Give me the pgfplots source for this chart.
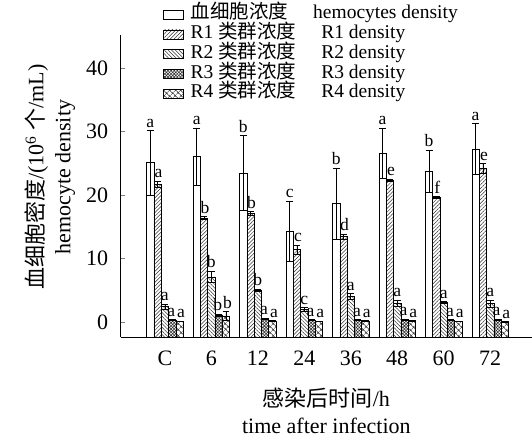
\documentclass[border=0pt]{standalone}
\usepackage{pgfplots}
\pgfplotsset{compat=1.18}
\usepackage{pgfplotstable}
\usetikzlibrary{patterns,patterns.meta}
\usepackage{fontspec}
\setmainfont{Liberation Serif}
\newfontfamily\cjk{Noto Sans CJK SC}
\newcommand\fA{\fontsize{22}{27}\selectfont}
\newcommand\fG{\fontsize{19.5}{20}\selectfont}
\newcommand\fL{\fontsize{17.5}{19}\selectfont}

\pgfplotstableread{
x w we wl r1 r1e r1l r2 r2e r2l r3 r3e r3l r4 r4e r4l
0 25.1 5.1 a 21.7 0.5 a 2.4 0.4 a 0.3 0.1 a 0.1 0.05 a
1 26.1 4.5 a 16.4 0.2 b 7.1 0.9 b 1.1 0.15 b 0.95 0.7 b
2 23.5 5.9 b 17.1 0.3 b 5.0 0.2 b 0.5 0.1 a 0.15 0.05 a
3 14.3 4.8 c 11.4 0.7 c 1.95 0.3 c 0.3 0.1 a 0.1 0.05 a
4 18.7 5.6 b 13.5 0.4 d 4.05 0.4 a 0.3 0.1 a 0.15 0.05 a
5 26.6 4.0 a 22.4 0.15 e 3.0 0.5 a 0.4 0.1 a 0.2 0.05 a
6 23.8 3.3 b 19.6 0.15 f 3.05 0.15 a 0.3 0.1 a 0.1 0.05 a
7 27.3 4.0 a 24.2 0.8 e 2.9 0.6 a 0.4 0.1 a 0.05 0.05 a
}\data

\begin{document}
\begin{tikzpicture}
\useasboundingbox (0,0) rectangle (532pt,441pt);
\begin{axis}[
  at={(120.7pt,103.5pt)}, anchor=south west,
  scale only axis, width=411.3pt, height=302.5pt,
  axis lines=left, axis line style={-, line width=0.8pt},
  ybar, bar width=7.3pt,
  xmin=-0.95, xmax=7.9,
  ymin=-2.44, ymax=45.24,
  y coord trafo/.code={\pgfmathparse{#1+2.44}},
  y coord inv trafo/.code={\pgfmathparse{#1-2.44}},
  ytick={0,10,20,30,40},
  xtick={0,...,7},
  xticklabels={C,6,12,24,36,48,60,72},
  x tick style={draw=none},
  y tick style={line width=0.8pt},
  tick align=inside, major tick length=4pt,
  tick label style={font=\fA},
  /pgf/number format/assume math mode=true,
  yticklabel style={xshift=-9pt},
  xticklabel style={yshift=-10pt},
  xlabel={{\cjk 感染后时间}/h\\time after infection},
  xlabel style={font=\fA, align=center, at={(axis description cs:0.5,-0.167)}, anchor=north, inner sep=0pt},
  ylabel={{\cjk 血细胞密度}/(10\textsuperscript{6} {\cjk 个}/mL)\\hemocyte density},
  ylabel style={font=\fA, align=center, at={(axis description cs:-0.172,0.53)}, anchor=center, inner sep=0pt},
  legend style={at={(rel axis cs:0.1028,1.1)}, anchor=north west, draw=none, fill=none,
    font=\fG, inner sep=0pt, row sep=0pt, column sep=7pt,
    nodes={inner sep=0pt, text height=14pt, text depth=5.7pt}},
  legend cell align=left,
  legend image code/.code={\draw[#1, line width=0.5pt] (0pt,-4.5pt) rectangle (20pt,4.5pt);},
  error bars/y dir=both, error bars/y explicit,
  error bars/error bar style={line width=0.6pt, black},
  error bars/error mark options={rotate=90, mark size=3.4pt, line width=0.6pt, black},
  every node near coord/.append style={font=\fL, inner sep=3pt, anchor=south, black},
]
\addplot[bar shift=-14.6pt, draw=black, line width=0.6pt, fill=white]
  table[x=x, y=w, y error=we] {\data};
\addlegendentry{{\cjk 血细胞浓度}\hspace{25pt}hemocytes density}
\addplot[bar shift=-7.3pt, draw=black, line width=0.6pt, pattern={Lines[angle=45, distance=2.6pt, line width=0.5pt]}, pattern color=black!80]
  table[x=x, y=r1, y error=r1e] {\data};
\addlegendentry{R1 {\cjk 类群浓度}\hspace{25pt}R1 density}
\addplot[bar shift=0pt, draw=black, line width=0.6pt, pattern={Lines[angle=-45, distance=2.6pt, line width=0.5pt]}, pattern color=black!80]
  table[x=x, y=r2, y error=r2e] {\data};
\addlegendentry{R2 {\cjk 类群浓度}\hspace{25pt}R2 density}
\addplot[bar shift=7.3pt, draw=black, line width=0.6pt, pattern={Hatch[angle=45, distance=2.2pt, line width=0.6pt]}, pattern color=black!80]
  table[x=x, y=r3, y error=r3e] {\data};
\addlegendentry{R3 {\cjk 类群浓度}\hspace{25pt}R3 density}
\addplot[bar shift=14.6pt, draw=black, line width=0.6pt, pattern={Hatch[angle=45, distance=4pt, line width=0.6pt]}, pattern color=black!80]
  table[x=x, y=r4, y error=r4e] {\data};
\addlegendentry{R4 {\cjk 类群浓度}\hspace{25pt}R4 density}

\addplot[forget plot, bar shift=-14.6pt, draw=none, fill=none, nodes near coords, point meta=explicit symbolic]
  table[x=x, y expr=\thisrow{w}+\thisrow{we}, meta=wl] {\data};
\addplot[forget plot, bar shift=-7.3pt, draw=none, fill=none, nodes near coords, point meta=explicit symbolic,
  every node near coord/.append style={xshift=1pt}]
  table[x=x, y expr=\thisrow{r1}+\thisrow{r1e}, meta=r1l] {\data};
\addplot[forget plot, bar shift=0pt, draw=none, fill=none, nodes near coords, point meta=explicit symbolic]
  table[x=x, y expr=\thisrow{r2}+\thisrow{r2e}, meta=r2l] {\data};
\addplot[forget plot, bar shift=7.3pt, draw=none, fill=none, nodes near coords, point meta=explicit symbolic,
  every node near coord/.append style={xshift=-1pt}]
  table[x=x, y expr=\thisrow{r3}+\thisrow{r3e}, meta=r3l] {\data};
\addplot[forget plot, bar shift=14.6pt, draw=none, fill=none, nodes near coords, point meta=explicit symbolic,
  every node near coord/.append style={xshift=1.5pt}]
  table[x=x, y expr=\thisrow{r4}+\thisrow{r4e}, meta=r4l] {\data};
\end{axis}
\end{tikzpicture}
\end{document}
